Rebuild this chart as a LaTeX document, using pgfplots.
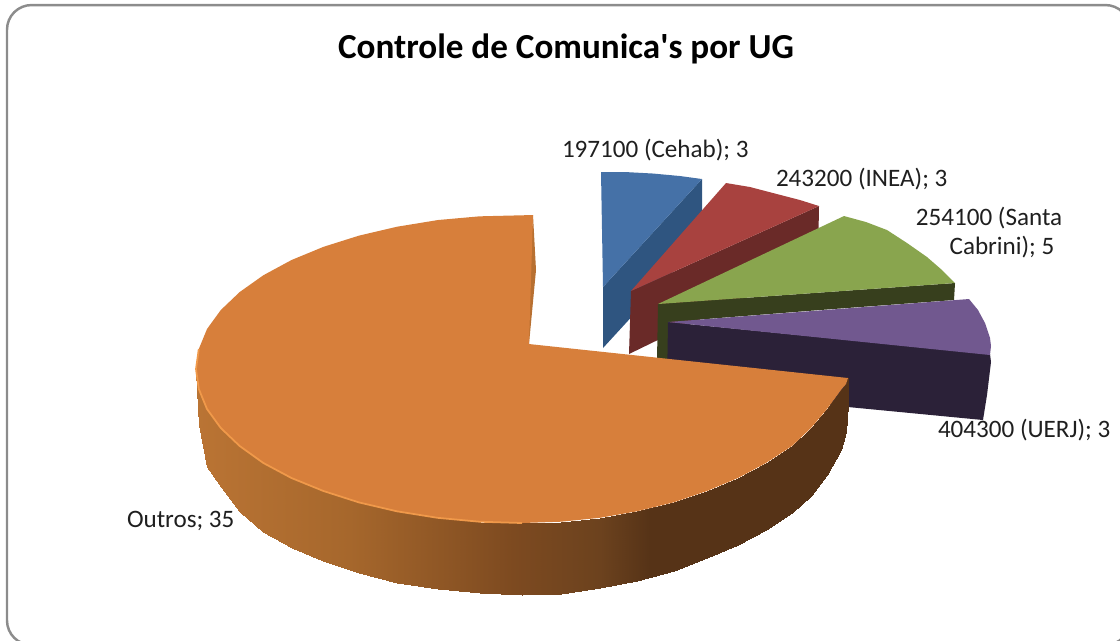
\documentclass[border=0pt]{standalone}
\usepackage{fontspec}
\setmainfont{Carlito}
\usepackage{pgfplots}
\pgfplotsset{compat=1.18}
\definecolor{bluetop}{HTML}{4571A7}\definecolor{blueside}{HTML}{2F5580}
\definecolor{redtop}{HTML}{A8423F}\definecolor{redside}{HTML}{6A2A28}
\definecolor{greentop}{HTML}{89A54E}\definecolor{greenside}{HTML}{373F1D}
\definecolor{purpletop}{HTML}{71588F}\definecolor{purpleside}{HTML}{2B2138}
\definecolor{orangetop}{HTML}{D77F3B}\definecolor{orangein}{HTML}{B87031}
\definecolor{orangerim}{HTML}{F0994A}
\tikzset{lab/.style={text=black!88,font=\fontsize{7.14pt}{8.6pt}\selectfont,inner sep=0pt,outer sep=0pt}}
\begin{document}
\begin{tikzpicture}
\begin{axis}[
  width=11.2cm,height=6.4cm,scale only axis,hide axis,
  xmin=0,xmax=1120,ymin=0,ymax=640,y dir=reverse,
  clip=true,
  colormap={sideor}{rgb255(196pt)=(186,116,52); rgb255(350pt)=(166,103,44); rgb255(513pt)=(125,74,32); rgb255(600pt)=(108,66,30); rgb255(650pt)=(86,51,23); rgb255(848pt)=(86,51,23)},
  point meta min=196,point meta max=848,
]
% frame
\draw[draw=black!45,line width=0.7pt,rounded corners=7pt] (axis cs:7,5) rectangle (axis cs:1130,645);
% blue slice
\addplot[fill=blueside,draw=none] coordinates {(702,179)(702,240)(603,348)(603,287)} -- cycle;
\addplot[fill=bluetop,draw=none] coordinates {(601,172)(625,172)(653,173.5)(680,176)(702,179)(603,287)} -- cycle;
% red slice
\addplot[fill=redside,draw=none] coordinates {(819,206)(818,262)(629,354)(631,291)} -- cycle;
\addplot[fill=redtop,draw=none] coordinates {(631,291)(726,183)(750,187)(773,193)(800,200)(819,206)} -- cycle;
% green slice
\addplot[fill=greenside,draw=none] coordinates {(658,304)(955,283)(954,300)(820,310)(668,322)(668,360)(657,360)} -- cycle;
\addplot[fill=greentop,draw=none] coordinates {(658,304)(844,216)(866,222)(887,230)(907,243)(927,257)(942,270)(955,283)} -- cycle;
% purple slice
\addplot[fill=purpleside,draw=none] coordinates {(668,322)(990,354)(991,362)(987,395)(983,420)(848,407)(667,385)} -- cycle;
\addplot[fill=purpletop,draw=none] coordinates {(668,322)(969,299)(978,310)(985,323)(990,338)(991,346)(990,355)} -- cycle;
% orange side, shaded
\addplot[surf,shader=interp,mesh/rows=2,point meta=x] table {
x y
196 369
198.8 389
207 409
220.8 428
239.7 446
263.4 463
291.5 478
323.5 491
359 502.4
397 511.3
437.6 517.8
479.5 521.7
522 523
561 521.7
600 517.8
637 511.3
673.5 502.4
707 491
738 478
766 463
792 446
811 428
827 409
841 390
846 384
848 378
196 372
198.8 425
207 467
220.8 487
239.7 512
263.4 532
291.5 548
323.5 561
359 573
397 583
437.6 589
479.5 593
522 595
561 594
600 588
637 581
673.5 571
707 558
738 545
766 530
792 513
811 496
827 475
841 450
846 432
848 405
};
% orange inner cut face
\addplot[fill=orangein,draw=none] coordinates {(533,215)(536,270)(529,344)(524,346)} -- cycle;
% orange top
\addplot[fill=orangetop,draw=none] coordinates {(533,215)(479.5,216.3)(438,220)(397,226.7)(359,235.6)(323.5,246.8)(291.5,260)(263.4,275.2)(239.7,292)(220.8,310)(207,329)(198.8,349)(196,369)(198.8,389)(207,409)(220.8,428)(239.7,446)(263.4,463)(291.5,478)(323.5,491)(359,502.4)(397,511.3)(437.6,517.8)(479.5,521.7)(522,523)(561,521.7)(600,517.8)(637,511.3)(673.5,502.4)(707,491)(738,478)(766,463)(792,446)(811,428)(827,409)(841,390)(846,384)(848,378)(529,344)} -- cycle;
% rim
\addplot[orangerim,line width=0.5pt,no marks] coordinates {(198.8,349)(196,369)(198.8,389)(207,409)(220.8,428)(239.7,446)(263.4,463)(291.5,478)(323.5,491)(359,502.4)(397,511.3)(437.6,517.8)(479.5,521.7)(522,523)};
% labels
\node[lab,anchor=base,font=\fontsize{10pt}{12pt}\bfseries\selectfont,text=black] at (axis cs:566,58) {Controle de Comunica\textquotesingle s por UG};
\node[lab,anchor=base west] at (axis cs:562,157) {197100 (Cehab); 3};
\node[lab,anchor=base west] at (axis cs:776,186) {243200 (INEA); 3};
\node[lab,anchor=base] at (axis cs:989,225) {254100 (Santa};
\node[lab,anchor=base] at (axis cs:1002,254) {Cabrini); 5};
\node[lab,anchor=base west] at (axis cs:938,437) {404300 (UERJ); 3};
\node[lab,anchor=base west] at (axis cs:127,527) {Outros; 35};
\end{axis}
\pgfresetboundingbox
\useasboundingbox (0,0) rectangle (11.2,6.4);
\end{tikzpicture}
\end{document}
